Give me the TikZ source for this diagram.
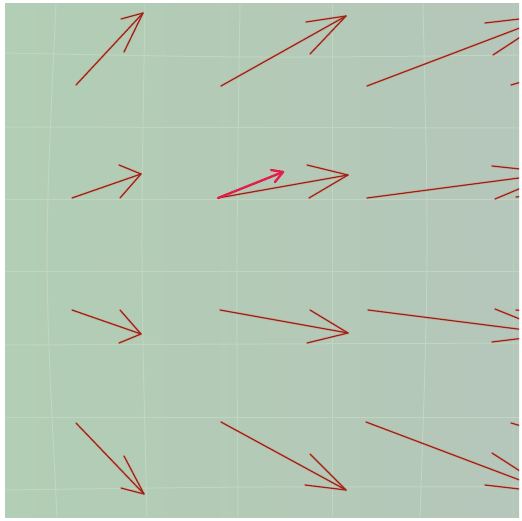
\documentclass[tikz,border=0pt]{standalone}
\definecolor{fieldL}{HTML}{B2CEB4}
\definecolor{fieldR}{HTML}{B5C6BA}
\definecolor{gridc}{HTML}{C0D6C3}
\definecolor{vecred}{HTML}{962418}
\definecolor{vecglow}{HTML}{EC8A78}
\definecolor{pinkvec}{HTML}{E41E4A}
\tikzset{
  gridline/.style={draw=gridc,line width=1pt},
  halo/.style={draw=vecglow,line width=2.8pt,opacity=.35,line cap=round,line join=round},
  vec/.style={draw=vecred,line width=1.2pt,line cap=round,line join=round},
  probe/.style={draw=pinkvec,line width=2.4pt,line cap=round,line join=round}
}
\begin{document}
\begin{tikzpicture}[x=1pt,y=-1pt]
\useasboundingbox (0,0) rectangle (522,521);
\fill[white] (0,0) rectangle (522,521);
\shade[left color=fieldL,right color=fieldR] (5,4) rectangle (519,517);
\begin{scope}
\clip (5,4) rectangle (519,517);
% grid, slightly bent
\draw[gridline] (56,4) .. controls (44,260) .. (57,517);
\draw[gridline] (145,4) .. controls (140.7,260) .. (147,517);
\draw[gridline] (240,4) .. controls (236.3,260) .. (238,517);
\draw[gridline] (332,4) -- (332,517);
\draw[gridline] (423,4) .. controls (428.8,260) .. (420,517);
\draw[gridline,opacity=.5] (514,4) -- (513,517);
\draw[gridline] (5,53) .. controls (260,58) .. (519,55);
\draw[gridline] (5,127) -- (519,128);
\draw[gridline] (5,200) -- (519,200);
\draw[gridline] (5,272) -- (519,272);
\draw[gridline] (5,345) -- (519,343);
\draw[gridline] (5,417) -- (519,417);
\draw[gridline] (5,490) .. controls (260,486.5) .. (519,487);
% field arrows: tail / head / barbs
\foreach \tx/\ty/\hx/\hy/\ax/\ay/\bx/\by in {
  76/85/143/13/121/19/124/52, 221/86/346/16/306/22/310/54,
  367/86/554/15/485/23/493/55, 511/85/756/14/700/20/700/50,
  72/198/141/174/119/165/120/198, 218/198/348/175/307/165/309/198,
  367/198/557/173/492/166/495/199, 516/197/760/174/700/165/700/198,
  72/310/141/334/120/310/119/343, 220/310/348/333/310/310/307/343,
  368/310/557/334/495/309/492/342, 516/310/760/333/700/310/700/343,
  76/423/144/494/124/456/121/488, 221/422/346/490/310/454/305/485,
  366/422/554/493/492/453/485/485, 511/423/756/494/700/455/700/488}{
  \coordinate (t) at (\tx,\ty); \coordinate (h) at (\hx,\hy);
  \coordinate (a) at (\ax,\ay); \coordinate (b) at (\bx,\by);
  \draw[halo] (t)--(h); \draw[halo] (a)--(h)--(b);
  \draw[vec] (t)--(h); \draw[vec] (a)--(h)--(b);
}
% probe vector
\coordinate (p0) at (218,198); \coordinate (p1) at (283,172);
\coordinate (pa) at (271,170); \coordinate (pb) at (275,182);
\draw[probe] (p0)--(p1); \draw[probe] (pa)--(p1)--(pb);
\end{scope}
\end{tikzpicture}
\end{document}
